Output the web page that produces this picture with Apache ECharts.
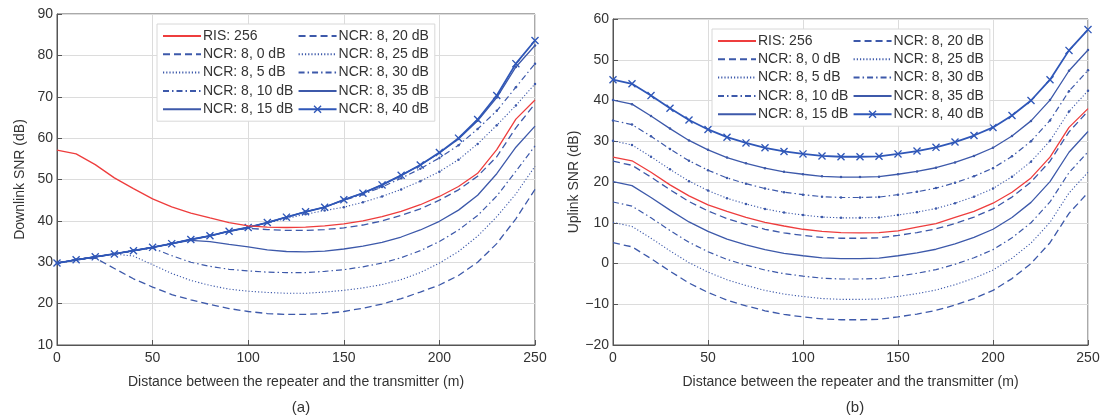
<!DOCTYPE html>
<html>
<head>
<meta charset="utf-8">
<script src="https://cdn.jsdelivr.net/npm/echarts@6/dist/echarts.min.js"></script>
<style>
html,body{margin:0;padding:0;background:#fff;}
#chart{width:1113px;height:416px;}
</style>
</head>
<body>
<div id="chart"></div>
<script>
// Distance (m)
const distance = [0,10,20,30,40,50,60,70,80,90,100,110,120,130,140,150,160,170,180,190,200,210,220,230,240,250];

const seriesNames = ['RIS: 256','NCR: 8, 0 dB','NCR: 8, 5 dB','NCR: 8, 10 dB','NCR: 8, 15 dB','NCR: 8, 20 dB','NCR: 8, 25 dB','NCR: 8, 30 dB','NCR: 8, 35 dB','NCR: 8, 40 dB'];

// (a) Downlink SNR (dB)
const dlRIS   = [57.1,56.2,53.6,50.4,47.8,45.3,43.4,41.9,40.7,39.6,38.8,38.5,38.4,38.5,38.8,39.3,40.0,41.0,42.3,43.9,45.9,48.3,51.5,57.2,64.6,69.2];
const dlNCR0  = [29.8,30.6,31.0,28.5,26.0,24.0,22.2,20.9,19.8,18.8,18.1,17.6,17.4,17.4,17.6,18.1,18.9,19.9,21.2,22.8,24.5,26.8,30.0,34.5,40.5,47.6];
const dlNCR5  = [29.8,30.6,31.3,32.0,31.5,29.4,27.3,25.6,24.4,23.5,23.0,22.7,22.5,22.5,22.8,23.2,23.8,24.6,25.8,27.5,29.8,32.6,36.3,41.0,46.5,53.2];
const dlNCR10 = [29.8,30.6,31.3,32.0,32.8,33.4,31.6,30.0,29.0,28.3,27.9,27.6,27.5,27.5,27.8,28.2,28.9,29.8,31.1,32.8,35.0,37.8,41.3,46.0,52.0,58.1];
const dlNCR15 = [29.8,30.6,31.3,32.0,32.8,33.6,34.5,35.3,35.0,34.3,33.7,33.0,32.6,32.5,32.7,33.2,33.9,34.8,36.1,37.8,39.9,42.6,46.2,51.4,57.8,62.9];
const dlNCR20 = [29.8,30.6,31.3,32.0,32.8,33.6,34.5,35.5,36.4,37.5,38.2,37.9,37.7,37.7,37.9,38.3,39.0,40.0,41.3,42.9,45.0,47.5,50.8,55.5,62.5,68.3];
const dlNCR25 = [29.8,30.6,31.3,32.0,32.8,33.6,34.5,35.5,36.4,37.5,38.4,39.5,40.6,41.6,42.5,43.3,44.5,45.9,47.6,49.6,51.9,54.8,58.6,63.1,67.9,73.1];
const dlNCR30 = [29.8,30.6,31.3,32.0,32.8,33.6,34.5,35.5,36.4,37.5,38.4,39.6,40.9,42.2,43.3,45.0,46.4,48.2,50.3,52.6,55.2,58.3,62.2,66.6,72.3,78.0];
const dlNCR35 = [29.8,30.6,31.3,32.0,32.8,33.6,34.5,35.5,36.4,37.5,38.4,39.6,40.9,42.2,43.3,45.1,46.7,48.7,51.0,53.5,56.4,59.8,64.2,69.8,77.2,82.4];
const dlNCR40 = [29.8,30.6,31.3,32.0,32.8,33.6,34.5,35.5,36.4,37.5,38.4,39.6,40.9,42.2,43.3,45.1,46.7,48.7,51.0,53.5,56.5,60.0,64.5,70.3,78.0,83.6];

// (b) Uplink SNR (dB)
const ulRIS   = [26.1,25.2,22.4,19.3,16.6,14.4,12.8,11.3,10.1,9.2,8.4,7.9,7.6,7.5,7.6,8.0,8.9,9.8,11.3,12.8,14.8,17.5,21.0,26.1,33.4,38.0];
const ulNCR0  = [5.1,4.1,1.2,-1.9,-4.8,-7.1,-9.0,-10.4,-11.6,-12.5,-13.1,-13.6,-13.8,-13.8,-13.7,-13.1,-12.4,-11.5,-10.2,-8.6,-6.6,-3.7,0.0,5.1,12.3,17.4];
const ulNCR5  = [10.1,9.1,6.2,3.1,0.2,-2.1,-4.0,-5.4,-6.6,-7.5,-8.1,-8.6,-8.8,-8.8,-8.7,-8.1,-7.4,-6.5,-5.2,-3.6,-1.6,1.3,5.0,10.1,17.3,22.4];
const ulNCR10 = [15.1,14.1,11.2,8.1,5.2,2.9,1.0,-0.4,-1.6,-2.5,-3.1,-3.6,-3.8,-3.8,-3.7,-3.1,-2.4,-1.5,-0.2,1.4,3.4,6.3,10.0,15.1,22.3,27.4];
const ulNCR15 = [20.1,19.1,16.2,13.1,10.2,7.9,6.0,4.6,3.4,2.5,1.9,1.4,1.2,1.2,1.3,1.9,2.6,3.5,4.8,6.4,8.4,11.3,15.0,20.1,27.3,32.4];
const ulNCR20 = [25.1,24.1,21.2,18.1,15.2,12.9,11.0,9.6,8.4,7.5,6.9,6.4,6.2,6.2,6.3,6.9,7.6,8.5,9.8,11.4,13.4,16.3,20.0,25.1,32.3,37.4];
const ulNCR25 = [30.1,29.1,26.2,23.1,20.2,17.9,16.0,14.6,13.4,12.5,11.9,11.4,11.2,11.2,11.3,11.9,12.6,13.5,14.8,16.4,18.4,21.3,25.0,30.1,37.3,42.4];
const ulNCR30 = [35.1,34.1,31.2,28.1,25.2,22.9,21.0,19.6,18.4,17.5,16.9,16.4,16.2,16.2,16.3,16.9,17.6,18.5,19.8,21.4,23.4,26.3,30.0,35.1,42.3,47.4];
const ulNCR35 = [40.1,39.1,36.2,33.1,30.2,27.9,26.0,24.6,23.4,22.5,21.9,21.4,21.2,21.2,21.3,21.9,22.6,23.5,24.8,26.4,28.4,31.3,35.0,40.1,47.3,52.4];
const ulNCR40 = [45.1,44.1,41.2,38.1,35.2,32.9,31.0,29.6,28.4,27.5,26.9,26.4,26.2,26.2,26.3,26.9,27.6,28.5,29.8,31.4,33.4,36.3,40.0,45.1,52.3,57.4];

const xTicks = [0,50,100,150,200,250];
const dlTicks = [10,20,30,40,50,60,70,80,90];
const ulTicks = [-20,-10,0,10,20,30,40,50,60];

const downlink = [dlRIS,dlNCR0,dlNCR5,dlNCR10,dlNCR15,dlNCR20,dlNCR25,dlNCR30,dlNCR35,dlNCR40];
const uplink   = [ulRIS,ulNCR0,ulNCR5,ulNCR10,ulNCR15,ulNCR20,ulNCR25,ulNCR30,ulNCR35,ulNCR40];

const RED = '#ee3d3d';
const BLUE = '#3d59aa';
const DASH = [7,4];
const DOT = [1.2,2];
const DASHDOT = [6,3,1.5,3];
const CROSS = 'path://M0,1.2 L1.2,0 L10,8.8 L8.8,10 Z M8.8,0 L10,1.2 L1.2,10 L0,8.8 Z';
// style per series: [color, lineType, symbol, symbolSize, width]
const styles = [
  [RED,'solid','none',0,1.3],
  [BLUE,DASH,'none',0,1.3],
  [BLUE,DOT,'none',0,1.1],
  [BLUE,DASHDOT,'none',0,1.2],
  [BLUE,'solid','none',0,1.3],
  [BLUE,DASH,'none',0,1.3],
  [BLUE,DOT,'circle',2.5,1.1],
  [BLUE,DASHDOT,'circle',2.5,1.2],
  [BLUE,'solid','circle',2.5,1.3],
  ['#2f57b8','solid',CROSS,8,1.8]
];

const FONT = 'Liberation Sans, Arial, sans-serif';
const TXT = '#333';
const minus = v => String(v).replace('-', '\u2212');

function makeSeries(data, gi) {
  return data.map((arr, i) => {
    const s = styles[i];
    return {
      name: seriesNames[i],
      type: 'line',
      xAxisIndex: gi, yAxisIndex: gi,
      data: distance.map((d, k) => [d, arr[k]]),
      symbol: s[2], symbolSize: s[3], showSymbol: s[2] !== 'none',
      itemStyle: { color: s[0] },
      lineStyle: { color: s[0], type: s[1], width: s[4] },
      z: i === 0 ? 3 : 2,
      animation: false
    };
  });
}

function xAxis(gi, name) {
  return {
    type: 'value', gridIndex: gi, min: 0, max: 250, interval: 50,
    name: name, nameLocation: 'middle', nameGap: 30,
    nameTextStyle: { fontFamily: FONT, fontSize: 14, color: TXT },
    axisLine: { show: true, onZero: false, lineStyle: { color: '#555', width: 1 } },
    axisTick: { inside: true, length: 5, lineStyle: { color: '#555' } },
    axisLabel: { fontFamily: FONT, fontSize: 14, color: TXT, margin: 6 },
    splitLine: { show: true, lineStyle: { color: '#dcdcdc', width: 1 } }
  };
}
function yAxis(gi, name, min, max) {
  return {
    type: 'value', gridIndex: gi, min: min, max: max, interval: 10,
    name: name, nameLocation: 'middle', nameGap: 30,
    nameTextStyle: { fontFamily: FONT, fontSize: 14, color: TXT },
    axisLine: { show: true, onZero: false, lineStyle: { color: '#555', width: 1 } },
    axisTick: { inside: true, length: 5, lineStyle: { color: '#555' } },
    axisLabel: { fontFamily: FONT, fontSize: 14, color: TXT, margin: 4, formatter: minus },
    splitLine: { show: true, lineStyle: { color: '#dcdcdc', width: 1 } }
  };
}
function legend(left, top) {
  return {
    data: seriesNames.map((n, i) => (i === 9 ? { name: n } : { name: n, itemStyle: { opacity: 0 } })),
    left: left, top: top, orient: 'vertical', height: 92,
    itemWidth: 38, itemHeight: 10, itemGap: 4.3,
    padding: [5, 6, 5, 5],
    backgroundColor: '#fff', borderColor: '#d8d8d8', borderWidth: 1,
    textStyle: { fontFamily: FONT, fontSize: 14, color: TXT, padding: [0, 0, 0, -3] },
    selectedMode: false
  };
}

const chart = echarts.init(document.getElementById('chart'), null, { renderer: 'canvas' });
chart.setOption({
  backgroundColor: '#fff',
  animation: false,
  textStyle: { fontFamily: FONT },
  grid: [
    { left: 57, top: 14, width: 478, height: 331, show: true, borderColor: '#555', borderWidth: 1, backgroundColor: 'transparent' },
    { left: 613, top: 19, width: 475, height: 326, show: true, borderColor: '#555', borderWidth: 1, backgroundColor: 'transparent' }
  ],
  xAxis: [xAxis(0, 'Distance between the repeater and the transmitter (m)'), xAxis(1, 'Distance between the repeater and the transmitter (m)')],
  yAxis: [yAxis(0, 'Downlink SNR (dB)', 10, 90), yAxis(1, 'Uplink SNR (dB)', -20, 60)],
  legend: [ legend(157, 24), legend(712, 29) ],
  title: [
    { text: '(a)', left: 296, top: 395, textAlign: 'center', textStyle: { fontFamily: FONT, fontSize: 15, fontWeight: 'normal', color: TXT } },
    { text: '(b)', left: 850, top: 395, textAlign: 'center', textStyle: { fontFamily: FONT, fontSize: 15, fontWeight: 'normal', color: TXT } }
  ],
  series: makeSeries(downlink, 0).concat(makeSeries(uplink, 1))
});
</script>
</body>
</html>
